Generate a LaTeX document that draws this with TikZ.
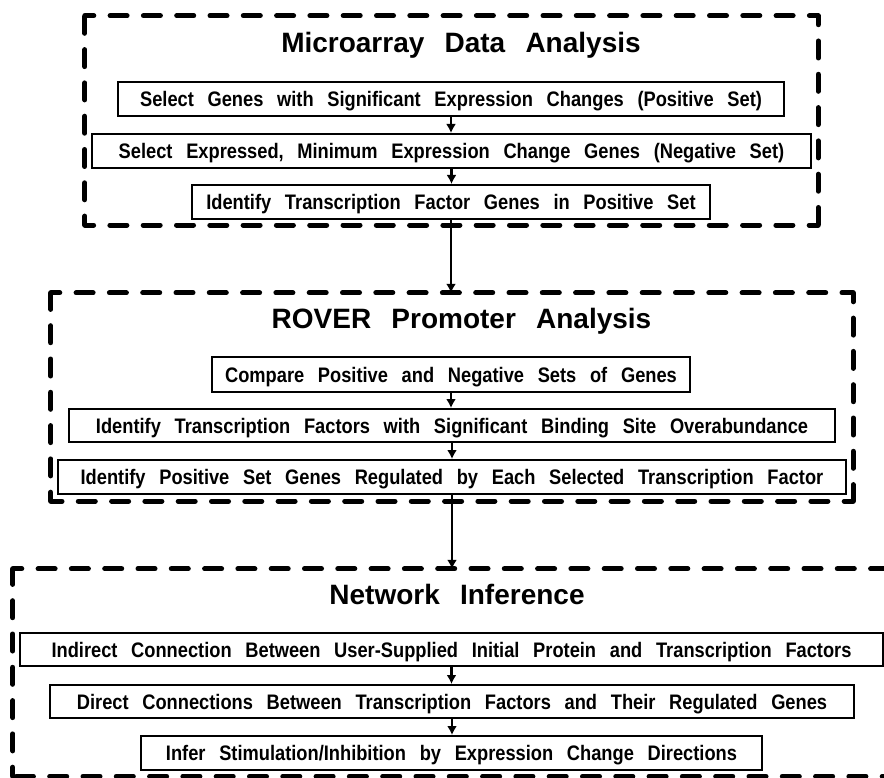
\documentclass[tikz,border=0pt]{standalone}
\usepackage{fontspec}
\setmainfont{Liberation Sans}
\newfontfamily\headfont{Liberation Sans}[WordSpace=2.6]
\newfontfamily\stepfont{Liberation Sans}[FakeStretch=0.87,WordSpace=2.7]
\usetikzlibrary{arrows.meta}
\tikzset{
	stage/.style={inner sep=0pt},
	stageline/.style={line width=5pt, line cap=round, dash pattern=on 17pt off 16.3pt, dash phase=8pt},
	head/.style={font=\headfont\bfseries\fontsize{28}{32}\selectfont, anchor=base, inner sep=0pt},
	stepbox/.style={draw, line width=2pt, inner sep=0pt, minimum height=34pt, text height=15pt, text depth=0pt, font=\stepfont\bfseries\fontsize{21}{25}\selectfont},
	flow/.style={line width=2.2pt, -{Latex[length=9pt,width=10pt]}}
}

\begin{document}
\begin{tikzpicture}[x=1pt, y=-1pt]
			%%%%% START %%%%%
			\useasboundingbox (0, 0) rectangle (884, 778);
			
			% three stages
			\node[stage, minimum width=733, minimum height=209] (micro) at (451.5, 120.4) {};
			\node[stage, minimum width=802, minimum height=208] (rover) at (452, 397) {};
			\node[stage, minimum width=878, minimum height=207] (net) at (452, 672.5) {};
			
			% dashed frames, one subpath per side so every corner gets a dash
			\foreach \s in {micro, rover, net}
				\draw[stageline] (\s.north west) -- (\s.north east)
					(\s.north east) -- (\s.south east)
					(\s.south east) -- (\s.south west)
					(\s.south west) -- (\s.north west);
			
			\node[head] (microhead) at (461, 53) {Microarray Data Analysis};
			\node[head] (roverhead) at (461.5, 328) {ROVER Promoter Analysis};
			\node[head] (nethead) at (457, 604) {Network Inference};
			
			% microarray steps
			\node[stepbox, minimum width=666] (pos) at (451, 99) {Select Genes with Significant Expression Changes (Positive Set)};
			\node[stepbox, minimum width=719] (neg) at (451.5, 151) {Select Expressed, Minimum Expression Change Genes (Negative Set)};
			\node[stepbox, minimum width=518] (tfpos) at (451, 202) {Identify Transcription Factor Genes in Positive Set};
			
			% promoter steps
			\node[stepbox, minimum width=478, minimum height=35] (cmp) at (451, 374.5) {Compare Positive and Negative Sets of Genes};
			\node[stepbox, minimum width=766, minimum height=33] (tfsig) at (452, 425.5) {Identify Transcription Factors with Significant Binding Site Overabundance};
			\node[stepbox, minimum width=788] (reg) at (452, 477) {Identify Positive Set Genes Regulated by Each Selected Transcription Factor};
			
			% network steps
			\node[stepbox, minimum width=863, minimum height=33] (indir) at (451.5, 649.5) {Indirect Connection Between User-Supplied Initial Protein and Transcription Factors};
			\node[stepbox, minimum width=804, minimum height=33] (dir) at (452, 701.5) {Direct Connections Between Transcription Factors and Their Regulated Genes};
			\node[stepbox, minimum width=621] (infer) at (451.5, 753) {Infer Stimulation/Inhibition by Expression Change Directions};
			
			\draw[flow] (pos.south) -- (pos.south |- neg.north);
			\draw[flow] (neg.south) -- (neg.south |- tfpos.north);
			\draw[flow] (tfpos.south) -- (tfpos.south |- rover.north);
			
			\draw[flow] (cmp.south) -- (cmp.south |- tfsig.north);
			\draw[flow] (tfsig.south) -- (tfsig.south |- reg.north);
			\draw[flow] (reg.south) -- (reg.south |- net.north);
			
			\draw[flow] (indir.south) -- (indir.south |- dir.north);
			\draw[flow] (dir.south) -- (dir.south |- infer.north);
			%%%%% END %%%%%
\end{tikzpicture}
\end{document}
